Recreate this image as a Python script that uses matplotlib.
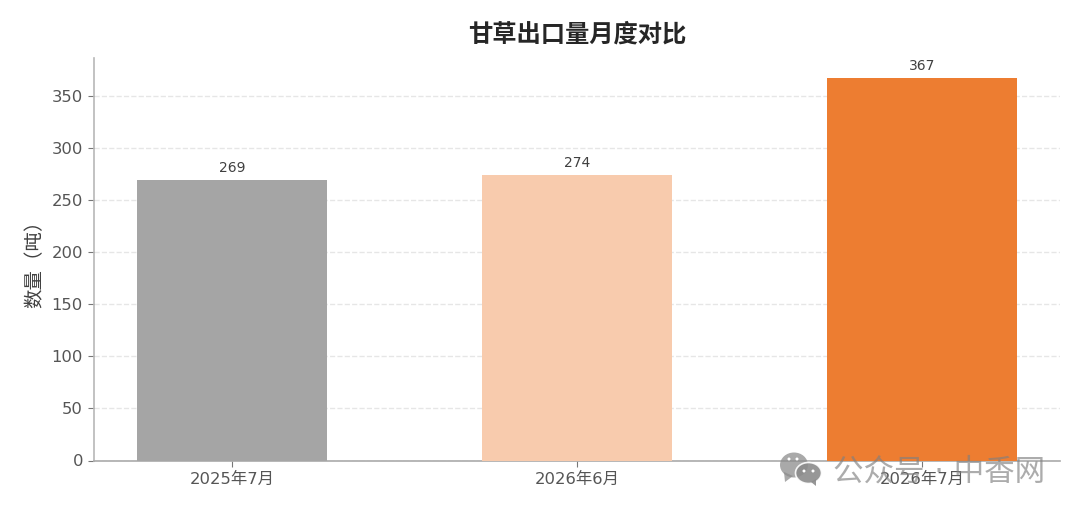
import matplotlib
matplotlib.use('Agg')
import matplotlib.pyplot as plt
from matplotlib.patches import Ellipse, Polygon

plt.rcParams['font.family'] = ['DejaVu Sans', 'Noto Sans CJK SC']

months = ['2025年7月', '2026年6月', '2026年7月']
values = [269, 274, 367]
bar_colors = ['#a5a5a5', '#f8cbad', '#ed7d31']
yticks = [0, 50, 100, 150, 200, 250, 300, 350]

fig = plt.figure(figsize=(10.8, 5.13), dpi=100)
ax = fig.add_axes([94 / 1080, 1 - 460.5 / 513, (1060 - 94) / 1080, (460.5 - 58) / 513])

bars = ax.bar(months, values, width=0.548, color=bar_colors, zorder=3)
for bar, v in zip(bars, values):
    ax.annotate(str(v), (bar.get_x() + bar.get_width() / 2, v), xytext=(0, 3.5), textcoords='offset points',
                ha='center', va='bottom', fontsize=10, color='#404040')

ax.set_xlim(-0.4, 2.4)
ax.set_ylim(0, 386.4)
ax.set_yticks(yticks)
ax.tick_params(axis='both', labelsize=11.8, colors='#555555', length=4.5, color='#777777')
ax.grid(axis='y', linestyle='--', color='#e6e6e6', linewidth=1, zorder=0)
ax.spines['top'].set_visible(False)
ax.spines['right'].set_visible(False)
ax.spines['left'].set_color('#b8b8b8')
ax.spines['left'].set_linewidth(1.2)
ax.spines['bottom'].set_color('#aaaaaa')
ax.spines['bottom'].set_linewidth(1.2)
fig.text(34.5 / 1080, 1 - 259 / 513, '数量（吨）', rotation=90, ha='center', va='center', fontsize=14, color='#404040')
ax.set_title('甘草出口量月度对比', fontsize=17.5, fontweight='bold', color='#262626', pad=12)

# watermark, sits on top of the axis and the last tick label
wm = '#8c8c8c'
def px(x, y):
    return x / 1080, 1 - y / 513
tr = fig.transFigure
fig.add_artist(Ellipse(px(794, 465), 28 / 1080, 25 / 513, transform=tr, color=wm, alpha=0.75, lw=0, zorder=5))
fig.add_artist(Ellipse(px(808.5, 473), 26 / 1080, 21 / 513, transform=tr, facecolor=wm, edgecolor='white', lw=1.2, alpha=0.9, zorder=6))
fig.add_artist(Polygon([px(784, 472), px(785, 482), px(793, 476)], transform=tr, color=wm, alpha=0.75, lw=0, zorder=5))
fig.add_artist(Polygon([px(811, 482), px(816, 486), px(816, 479)], transform=tr, color=wm, alpha=0.9, lw=0, zorder=6))
for ex, ey in [(789, 459), (797, 459), (804, 471), (813, 471)]:
    fig.add_artist(Ellipse(px(ex, ey), 3 / 1080, 3 / 513, transform=tr, color='white', lw=0, zorder=7))
fig.text(1045 / 1080, 1 - 472 / 513, '公众号 · 中香网', ha='right', va='center', fontsize=22,
         color='#808080', alpha=0.65, zorder=8)

fig.savefig('out.png', dpi=100)
